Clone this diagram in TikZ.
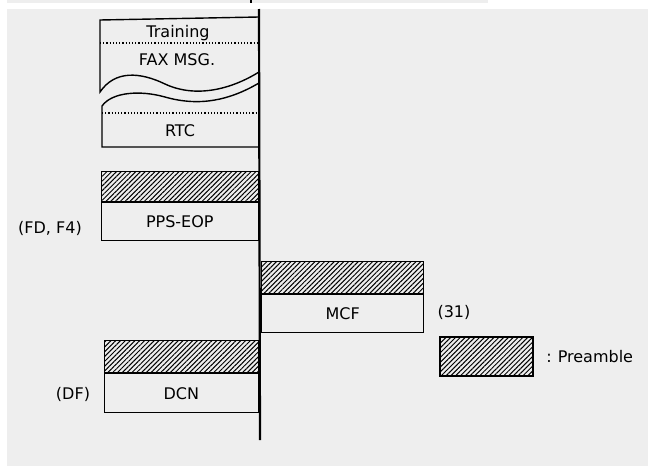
\documentclass[tikz,border=0pt]{standalone}
\usepackage{fontspec}
\setmainfont{DejaVu Sans}
\usetikzlibrary{positioning,patterns.meta}
\definecolor{paper}{HTML}{EEEEEE}

\begin{document}
\begin{tikzpicture}[
    x=1pt, y=-1pt,
    line width=1.4pt,
    font=\fontsize{16}{19}\selectfont,
    frame/.style={rectangle, draw, inner sep=0pt},
    preamble/.style={rectangle, draw, inner sep=0pt, pattern={Lines[angle=45, distance=3.4pt, line width=1pt]}},
    dotline/.style={dotted, line width=1.2pt},
    note/.style={inner sep=0pt}
]
    % page
    \useasboundingbox (0,0) rectangle (648,466);
    \fill[paper] (7,9) rectangle (648,466);
    \fill[paper] (7,0) rectangle (488,3);
    \draw[line width=1.5pt] (251,0) -- (251,3);
    % time line
    \coordinate (top) at (259,9);
    \coordinate (bottom) at (260,440);
    \draw[line width=2.2pt] (top) -- (bottom);
    % fax message, cut
    \draw (259,17) -- (100,20) -- (100,92) .. controls (115,70) and (140,72) .. (165,84) .. controls (195,98) and (230,90) .. (259,72);
    \draw (259,83) .. controls (230,100) and (200,107) .. (165,97) .. controls (140,90) and (112,92) .. (102,106) -- (102,147) -- (259,147);
    \draw[dotline] (100,43) -- (259,43);
    \draw[dotline] (102,113) -- (259,113);
    \node[note] (training) at (178,33) {Training};
    \node[note] (faxmsg) at (177,60) {FAX MSG.};
    \node[note] (rtc) at (180,131) {RTC};
    % PPS-EOP
    \node[frame, minimum width=157pt, minimum height=38pt, anchor=north east] (pps) at (259,202) {PPS-EOP};
    \node[preamble, minimum width=157pt, minimum height=30pt, anchor=south] (ppspre) at (pps.north) {};
    \node[note] (fdf4) at (50,228) {(FD, F4)};
    % MCF
    \node[frame, minimum width=162pt, minimum height=38pt, anchor=north west] (mcf) at (261,294) {MCF};
    \node[preamble, minimum width=162pt, minimum height=32pt, anchor=south] (mcfpre) at (mcf.north) {};
    \node[note] (n31) at (454,312) {(31)};
    % DCN
    \node[frame, minimum width=154pt, minimum height=39pt, anchor=north east] (dcn) at (259,373) {DCN};
    \node[preamble, minimum width=154pt, minimum height=32pt, anchor=south] (dcnpre) at (dcn.north) {};
    \node[note] (df) at (73,394) {(DF)};
    % key
    \node[preamble, minimum width=93pt, minimum height=39pt] (key) at (486.5,356.5) {};
    \node[note, right=12pt of key] (keytext) {:\hspace{6pt}Preamble};
\end{tikzpicture}
\end{document}
